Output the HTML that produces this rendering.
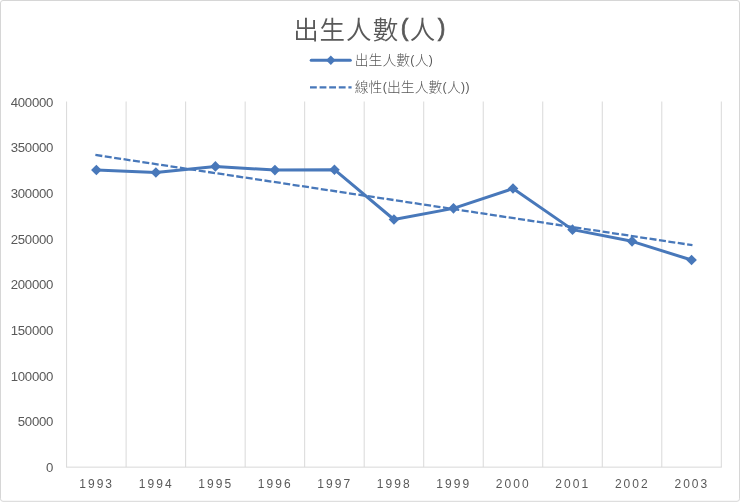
<!DOCTYPE html>
<html lang="zh-Hant"><head><meta charset="utf-8"><title>出生人數(人)</title>
<style>
html,body{margin:0;padding:0;background:#fff;}
body{width:740px;height:502px;overflow:hidden;position:relative;}
svg{position:absolute;left:0;top:0;display:block;}
text{font-family:"Liberation Sans","Noto Sans CJK TC",sans-serif;fill:#595959;}
.ttl{font-size:25.5px;letter-spacing:0.6px;font-weight:350;}
.par{font-size:23px;font-weight:400;stroke:#595959;stroke-width:0.7px;}
.lp{font-size:12.2px;font-weight:400;}
.leg{font-size:13.8px;font-weight:300;}
.yl{font-size:13.2px;text-anchor:end;letter-spacing:-0.25px;}
.xl{font-size:12px;text-anchor:middle;letter-spacing:2.05px;}
</style></head><body>
<svg width="740" height="502" viewBox="0 0 740 502">
<rect x="0" y="0" width="740" height="502" fill="#ffffff"/>
<rect x="0.5" y="0.5" width="739" height="500.8" rx="2.5" ry="2.5" fill="none" stroke="#d6d6d6" stroke-width="1"/>

<line x1="66.60" y1="101.50" x2="66.60" y2="467.15" stroke="#d9d9d9" stroke-width="1"/>
<line x1="126.12" y1="101.50" x2="126.12" y2="467.15" stroke="#d9d9d9" stroke-width="1"/>
<line x1="185.64" y1="101.50" x2="185.64" y2="467.15" stroke="#d9d9d9" stroke-width="1"/>
<line x1="245.16" y1="101.50" x2="245.16" y2="467.15" stroke="#d9d9d9" stroke-width="1"/>
<line x1="304.68" y1="101.50" x2="304.68" y2="467.15" stroke="#d9d9d9" stroke-width="1"/>
<line x1="364.20" y1="101.50" x2="364.20" y2="467.15" stroke="#d9d9d9" stroke-width="1"/>
<line x1="423.72" y1="101.50" x2="423.72" y2="467.15" stroke="#d9d9d9" stroke-width="1"/>
<line x1="483.24" y1="101.50" x2="483.24" y2="467.15" stroke="#d9d9d9" stroke-width="1"/>
<line x1="542.76" y1="101.50" x2="542.76" y2="467.15" stroke="#d9d9d9" stroke-width="1"/>
<line x1="602.28" y1="101.50" x2="602.28" y2="467.15" stroke="#d9d9d9" stroke-width="1"/>
<line x1="661.80" y1="101.50" x2="661.80" y2="467.15" stroke="#d9d9d9" stroke-width="1"/>
<line x1="721.32" y1="101.50" x2="721.32" y2="467.15" stroke="#d9d9d9" stroke-width="1"/>
<line x1="66.10" y1="467.15" x2="721.82" y2="467.15" stroke="#d9d9d9" stroke-width="1"/>
<text class="yl" x="53.2" y="471.90">0</text>
<text class="yl" x="53.2" y="426.24">50000</text>
<text class="yl" x="53.2" y="380.57">100000</text>
<text class="yl" x="53.2" y="334.91">150000</text>
<text class="yl" x="53.2" y="289.25">200000</text>
<text class="yl" x="53.2" y="243.59">250000</text>
<text class="yl" x="53.2" y="197.93">300000</text>
<text class="yl" x="53.2" y="152.26">350000</text>
<text class="yl" x="53.2" y="106.60">400000</text>
<text class="xl" x="96.66" y="487.7">1993</text>
<text class="xl" x="156.18" y="487.7">1994</text>
<text class="xl" x="215.70" y="487.7">1995</text>
<text class="xl" x="275.22" y="487.7">1996</text>
<text class="xl" x="334.74" y="487.7">1997</text>
<text class="xl" x="394.26" y="487.7">1998</text>
<text class="xl" x="453.78" y="487.7">1999</text>
<text class="xl" x="513.30" y="487.7">2000</text>
<text class="xl" x="572.82" y="487.7">2001</text>
<text class="xl" x="632.34" y="487.7">2002</text>
<text class="xl" x="691.86" y="487.7">2003</text>
<line x1="95.36" y1="154.96" x2="692.46" y2="245.18" stroke="#4878ba" stroke-width="2.3" stroke-dasharray="7 2.5"/>
<polyline points="96.36,170.03 155.88,172.48 215.40,166.41 274.92,170.10 334.44,169.68 393.96,219.50 453.48,208.35 513.00,188.57 572.52,229.63 632.04,241.34 691.56,260.03" fill="none" stroke="#4878ba" stroke-width="3" stroke-linejoin="round" stroke-linecap="round"/>
<path d="M91.06 170.03L96.36 164.73L101.66 170.03L96.36 175.33Z" fill="#4878ba"/>
<path d="M150.58 172.48L155.88 167.18L161.18 172.48L155.88 177.78Z" fill="#4878ba"/>
<path d="M210.10 166.41L215.40 161.11L220.70 166.41L215.40 171.71Z" fill="#4878ba"/>
<path d="M269.62 170.10L274.92 164.80L280.22 170.10L274.92 175.40Z" fill="#4878ba"/>
<path d="M329.14 169.68L334.44 164.38L339.74 169.68L334.44 174.98Z" fill="#4878ba"/>
<path d="M388.66 219.50L393.96 214.20L399.26 219.50L393.96 224.80Z" fill="#4878ba"/>
<path d="M448.18 208.35L453.48 203.05L458.78 208.35L453.48 213.65Z" fill="#4878ba"/>
<path d="M507.70 188.57L513.00 183.27L518.30 188.57L513.00 193.87Z" fill="#4878ba"/>
<path d="M567.22 229.63L572.52 224.33L577.82 229.63L572.52 234.93Z" fill="#4878ba"/>
<path d="M626.74 241.34L632.04 236.04L637.34 241.34L632.04 246.64Z" fill="#4878ba"/>
<path d="M686.26 260.03L691.56 254.73L696.86 260.03L691.56 265.33Z" fill="#4878ba"/>
<line x1="311.2" y1="60.3" x2="350.3" y2="60.3" stroke="#4878ba" stroke-width="3" stroke-linecap="round"/>
<path d="M326.10 60.30L330.80 55.60L335.50 60.30L330.80 65.00Z" fill="#4878ba"/>
<line x1="310" y1="87.3" x2="351.6" y2="87.3" stroke="#4878ba" stroke-width="2.3" stroke-dasharray="6.8 2.8"/>
<text class="leg" x="354.8" y="65.2">出生人數<tspan class="lp" dx="0.3" dy="-1">(</tspan><tspan dx="0.3" dy="1">人</tspan><tspan class="lp" dx="0.3" dy="-1">)</tspan></text>
<text class="leg" x="354.8" y="91.6">線性<tspan class="lp" dx="0.3" dy="-1">(</tspan><tspan dx="0.3" dy="1">出生人數</tspan><tspan class="lp" dx="0.3" dy="-1">(</tspan><tspan dx="0.3" dy="1">人</tspan><tspan class="lp" dx="0.3" dy="-1">)</tspan><tspan class="lp" dx="0.5">)</tspan></text>
<text class="ttl" y="38.8"><tspan x="293.3">出</tspan><tspan x="319.4">生</tspan><tspan x="346.1">人</tspan><tspan x="372.8">數</tspan><tspan class="par" x="400.8" y="35.5">(</tspan><tspan x="409.8" y="38.8">人</tspan><tspan class="par" x="437.7" y="35.5">)</tspan></text>
</svg></body></html>
